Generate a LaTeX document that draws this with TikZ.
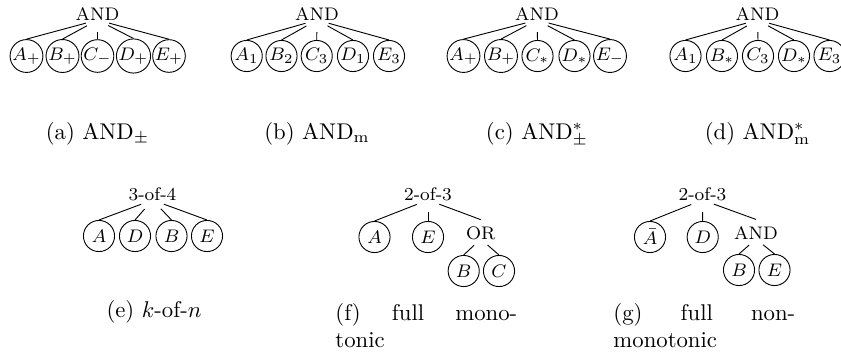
\documentclass[tikz,border=0pt]{standalone}
\begin{document}
\begin{tikzpicture}[x=0.44pt,y=-0.44pt,
  lbl/.style={font=\footnotesize, inner sep=2.7pt, anchor=base},
  leaf/.style={draw, circle, font=\footnotesize, inner sep=0pt, minimum size=13.7pt},
  tedge/.style={shorten <=5.3pt},
  subedge/.style={shorten <=4pt},
  captxt/.style={font=\normalsize, inner sep=0pt, anchor=base}]
\useasboundingbox (0,0) rectangle (841,356);
\clip (0,0) rectangle (841,356);

% (a)
\node[lbl] (a0) at (97.5,20) {AND};
\node[leaf] (a1) at (26.5,56) {$A_+$};
\node[leaf] (a2) at (62.5,56) {$B_+$};
\node[leaf] (a3) at (97.5,56) {$C_-$};
\node[leaf] (a4) at (133.5,56) {$D_+$};
\node[leaf] (a5) at (169,56) {$E_+$};
\foreach \i in {1,...,5} \draw[tedge] (a0.base) -- (a\i.north);
\node[captxt] (ca) at (97.5,139) {(a) AND$_\pm$};

% (b)
\node[lbl] (b0) at (317,20) {AND};
\node[leaf] (b1) at (246.7,56) {$A_1$};
\node[leaf] (b2) at (281.5,56) {$B_2$};
\node[leaf] (b3) at (316.7,56) {$C_3$};
\node[leaf] (b4) at (353,56) {$D_1$};
\node[leaf] (b5) at (389,56) {$E_3$};
\foreach \i in {1,...,5} \draw[tedge] (b0.base) -- (b\i.north);
\node[captxt] (cb) at (317,139) {(b) AND$_\mathrm{m}$};

% (c)
\node[lbl] (c0) at (537,20) {AND};
\node[leaf] (c1) at (463.5,56) {$A_+$};
\node[leaf] (c2) at (501,56) {$B_+$};
\node[leaf] (c3) at (537.5,56) {$C_*$};
\node[leaf] (c4) at (574.5,56) {$D_*$};
\node[leaf] (c5) at (610,56) {$E_-$};
\foreach \i in {1,...,5} \draw[tedge] (c0.base) -- (c\i.north);
\node[captxt] (cc) at (537,139) {(c) AND$^*_\pm$};

% (d)
\node[lbl] (d0) at (757.5,20) {AND};
\node[leaf] (d1) at (685.5,56) {$A_1$};
\node[leaf] (d2) at (722,56) {$B_*$};
\node[leaf] (d3) at (758,56) {$C_3$};
\node[leaf] (d4) at (794,56) {$D_*$};
\node[leaf] (d5) at (829.5,56) {$E_3$};
\foreach \i in {1,...,5} \draw[tedge] (d0.base) -- (d\i.north);
\node[captxt] (cd) at (757.5,139) {(d) AND$^*_\mathrm{m}$};

% (e)
\node[lbl] (e0) at (152.5,200) {3-of-4};
\node[leaf] (e1) at (99,236) {$A$};
\node[leaf] (e2) at (135,236) {$D$};
\node[leaf] (e3) at (171.5,236) {$B$};
\node[leaf] (e4) at (207,236) {$E$};
\foreach \i in {1,...,4} \draw[tedge] (e0.base) -- (e\i.north);
\node[captxt] (ce) at (154,317) {(e) $k$-of-$n$};

% (f)
\node[lbl] (f0) at (428,200) {2-of-3};
\node[leaf] (f1) at (374.5,237) {$A$};
\node[leaf] (f2) at (428,237) {$E$};
\node[lbl] (f3) at (480.7,239) {OR};
\node[leaf] (f4) at (463.7,271) {$B$};
\node[leaf] (f5) at (499,271) {$C$};
\foreach \i in {1,2,3} \draw[tedge] (f0.base) -- (f\i.north);
\foreach \i in {4,5} \draw[subedge] (f3.base) -- (f\i.north);
\node[captxt, anchor=base west] (cf1) at (335,320) {\makebox[80pt][s]{(f) full mono-}};
\node[captxt, anchor=base west] (cf2) at (335,347) {tonic};

% (g)
\node[lbl] (g0) at (702.5,200) {2-of-3};
\node[leaf] (g1) at (650,237) {$\bar{A}$};
\node[leaf] (g2) at (702.7,237) {$D$};
\node[lbl] (g3) at (756,239) {AND};
\node[leaf] (g4) at (739,270) {$B$};
\node[leaf] (g5) at (774.5,270) {$E$};
\foreach \i in {1,2,3} \draw[tedge] (g0.base) -- (g\i.north);
\foreach \i in {4,5} \draw[subedge] (g3.base) -- (g\i.north);
\node[captxt, anchor=base west] (cg1) at (613,320) {\makebox[80pt][s]{(g) full non-}};
\node[captxt, anchor=base west] (cg2) at (613,347) {monotonic};
\end{tikzpicture}
\end{document}
